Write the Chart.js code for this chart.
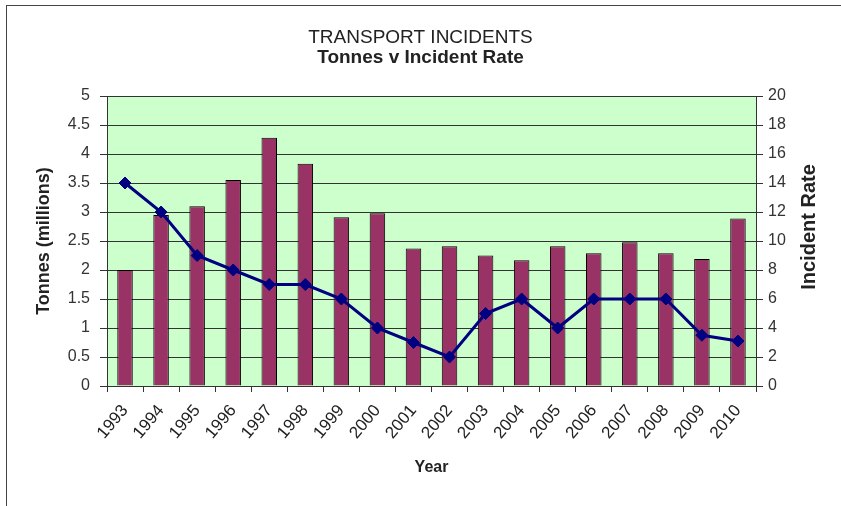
<!DOCTYPE html>
<html>
<head>
<meta charset="utf-8">
<script src="https://cdn.jsdelivr.net/npm/chart.js@4"></script>
<style>
  html, body { margin: 0; padding: 0; background: #fff; }
  #wrap { position: relative; width: 841px; height: 506px; overflow: hidden; }
</style>
</head>
<body>
<div id="wrap"><canvas id="chart" width="841" height="506"></canvas></div>
<script>
const years = ["1993", "1994", "1995", "1996", "1997", "1998", "1999", "2000", "2001",
               "2002", "2003", "2004", "2005", "2006", "2007", "2008", "2009", "2010"];
const tonnes = [2.0, 2.95, 3.1, 3.55, 4.28, 3.83, 2.91, 2.98, 2.37,
                2.41, 2.25, 2.17, 2.41, 2.29, 2.48, 2.29, 2.19, 2.89];
const incidentRate = [14, 12, 9, 8, 7, 7, 6, 4, 3,
                      2, 5, 6, 4, 6, 6, 6, 3.5, 3.1];

const FONT = "'Liberation Sans', Arial, sans-serif";
const gridColor = "#333";
const textColor = "#222";

// green plot area, outer frame, and the right axis title (reads bottom to top)
const decorations = {
    id: "decorations",
    beforeDraw(chart) {
        const { ctx, chartArea: a } = chart;
        ctx.save();
        ctx.fillStyle = "#fff";
        ctx.fillRect(0, 0, chart.width, chart.height);
        ctx.fillStyle = "#ccffcc";
        ctx.fillRect(a.left, a.top, a.right - a.left, a.bottom - a.top);
        ctx.strokeStyle = "#444";
        ctx.lineWidth = 1;
        ctx.strokeRect(6.5, 5.5, 900, 600);
        ctx.restore();
    },
    afterDraw(chart) {
        const { ctx, chartArea: a } = chart;
        ctx.save();
        ctx.translate(809, (a.top + a.bottom) / 2 - 14);
        ctx.rotate(-Math.PI / 2);
        ctx.font = "bold 20px " + FONT;
        ctx.fillStyle = textColor;
        ctx.textAlign = "center";
        ctx.textBaseline = "middle";
        ctx.fillText("Incident Rate", 0, 0);
        ctx.restore();
    }
};

const tickFmt = (v) => String(parseFloat(Number(v).toFixed(1)));

new Chart(document.getElementById("chart"), {
    type: "bar",
    data: {
        labels: years,
        datasets: [
            {
                type: "line",
                label: "Incident Rate",
                data: incidentRate,
                yAxisID: "y1",
                order: 0,
                borderColor: "#000080",
                backgroundColor: "#000080",
                borderWidth: 3,
                pointStyle: "rectRot",
                pointRadius: 6,
                pointBorderWidth: 1,
                tension: 0
            },
            {
                label: "Tonnes",
                data: tonnes,
                yAxisID: "y",
                order: 1,
                backgroundColor: "#993366",
                borderColor: "#000",
                borderWidth: 1,
                categoryPercentage: 1,
                barPercentage: 0.43
            }
        ]
    },
    options: {
        responsive: false,
        animation: false,
        layout: { padding: 0 },
        plugins: {
            legend: { display: false },
            tooltip: { enabled: false },
            title: {
                display: true,
                text: "TRANSPORT INCIDENTS",
                color: textColor,
                font: { family: FONT, size: 19, weight: "normal", lineHeight: 1.0 },
                padding: { top: 28, bottom: 1 }
            },
            subtitle: {
                display: true,
                text: "Tonnes v Incident Rate",
                color: textColor,
                font: { family: FONT, size: 19, weight: "bold", lineHeight: 1.0 },
                padding: { top: 0, bottom: 29 }
            }
        },
        scales: {
            x: {
                offset: true,
                grid: { offset: true, drawOnChartArea: false, drawTicks: true, tickLength: 6, color: gridColor },
                border: { display: true, color: gridColor },
                ticks: {
                    color: textColor,
                    font: { family: FONT, size: 17 },
                    minRotation: 50,
                    maxRotation: 50,
                    padding: 9,
                    autoSkip: false
                },
                title: {
                    display: true,
                    text: "Year",
                    color: textColor,
                    font: { family: FONT, size: 16, weight: "bold", lineHeight: 1.2 },
                    padding: { top: 0, bottom: 29 }
                },
                afterFit(scale) { scale.height = 120; }
            },
            y: {
                position: "left",
                min: 0,
                max: 5,
                ticks: {
                    stepSize: 0.5,
                    color: "#333",
                    font: { family: FONT, size: 16 },
                    padding: 10,
                    callback: tickFmt
                },
                grid: { color: gridColor, tickLength: 7 },
                border: { display: true, color: gridColor },
                title: {
                    display: true,
                    text: "Tonnes (millions)",
                    color: textColor,
                    font: { family: FONT, size: 18, weight: "bold", lineHeight: 1.2 },
                    padding: { top: 33, bottom: 0 }
                },
                afterFit(scale) { scale.width = 107; }
            },
            y1: {
                position: "right",
                min: 0,
                max: 20,
                ticks: {
                    stepSize: 2,
                    color: "#333",
                    font: { family: FONT, size: 16 },
                    padding: 5
                },
                grid: { drawOnChartArea: false, color: gridColor, tickLength: 7 },
                border: { display: true, color: gridColor },
                afterFit(scale) { scale.width = 85; }
            }
        }
    },
    plugins: [decorations]
});
</script>
</body>
</html>
